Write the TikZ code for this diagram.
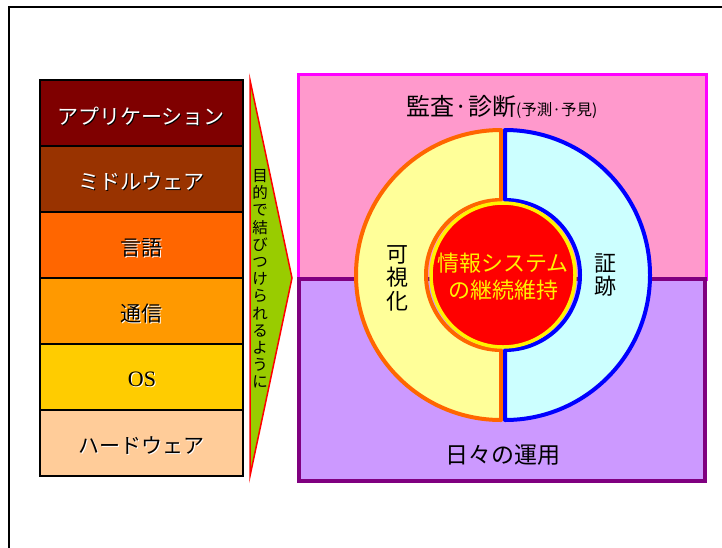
\documentclass[tikz,border=0pt]{standalone}
\usepackage{fontspec}
\setmainfont{Noto Sans CJK JP}
\newfontfamily\osfont{Liberation Serif}
\definecolor{cApp}{HTML}{7F0000}
\definecolor{cMid}{HTML}{993300}
\definecolor{cLang}{HTML}{FF6600}
\definecolor{cCom}{HTML}{FF9900}
\definecolor{cOS}{HTML}{FFCC00}
\definecolor{cHW}{HTML}{FFCC99}
\definecolor{cArrow}{HTML}{99CC00}
\definecolor{cPink}{HTML}{FF99CC}
\definecolor{cMag}{HTML}{FF00FF}
\definecolor{cPurp}{HTML}{CC99FF}
\definecolor{cPurpLine}{HTML}{800080}
\definecolor{cYel}{HTML}{FFFF99}
\definecolor{cCyan}{HTML}{CCFFFF}
\definecolor{cOrange}{HTML}{FF6600}
\begin{document}
\begin{tikzpicture}[x=1pt,y=-1pt,
  band/.style={draw=black,line width=2pt},
  bandtext/.style={inner sep=0pt,font=\fontsize{21}{24}\selectfont},
  bigtext/.style={inner sep=0pt,align=center,font=\fontsize{22}{24}\selectfont},
  vtext/.style={inner sep=0pt,align=center,font=\fontsize{15.5}{17.2}\selectfont},
  halfring/.style={line width=4pt,line join=round}]
\useasboundingbox (0,0) rectangle (722,547);
\fill[white] (0,0) rectangle (722,547);
\clip (0,0) rectangle (722,547);
% outer frame
\draw[line width=2.5pt] (9,600) -- (9,7) -- (760,7);
% layer stack
\draw[band,fill=cApp]  (40,80)  rectangle (243,146);
\draw[band,fill=cMid]  (40,146) rectangle (243,212);
\draw[band,fill=cLang] (40,212) rectangle (243,278);
\draw[band,fill=cCom]  (40,278) rectangle (243,344);
\draw[band,fill=cOS]   (40,344) rectangle (243,410);
\draw[band,fill=cHW]   (40,410) rectangle (243,476);
\node[bandtext,text=black] (appS) at (142,117) {アプリケーション};
\node[bandtext,text=white] (app)  at (141,116) {アプリケーション};
\node[bandtext,text=black] (midS) at (142,183) {ミドルウェア};
\node[bandtext,text=white] (mid)  at (141,182) {ミドルウェア};
\node[bandtext,text=white] (langS) at (142,249) {言語};
\node[bandtext,text=black] (lang)  at (141,248) {言語};
\node[bandtext,text=white] (comS) at (142,315) {通信};
\node[bandtext,text=black] (com)  at (141,314) {通信};
\node[bandtext,text=white,font=\osfont\fontsize{22}{24}\selectfont] (osS) at (143,380) {OS};
\node[bandtext,text=black,font=\osfont\fontsize{22}{24}\selectfont] (os)  at (142,379) {OS};
\node[bandtext,text=white] (hwS) at (142,447) {ハードウェア};
\node[bandtext,text=black] (hw)  at (141,446) {ハードウェア};
% arrow
\draw[red,fill=cArrow,line width=1.5pt,line join=miter] (250,80) -- (292,278) -- (250,476) -- cycle;
\node[vtext] (purpose) at (260,279) {目\\的\\で\\結\\び\\つ\\け\\ら\\れ\\る\\よ\\う\\に};
% right boxes
\draw[draw=cMag,fill=cPink,line width=3pt] (298,74) rectangle (706,279);
\draw[draw=cPurpLine,fill=cPurp,line width=3.5pt] (299,279) rectangle (705,481);
\node[inner sep=0pt,anchor=base] (audit) at (502,115)
  {\fontsize{24}{26}\selectfont 監査·診断\fontsize{15.5}{17}\selectfont(予測·予見)};
\node[bigtext,font=\fontsize{23}{25}\selectfont] (ops) at (503,455) {日々の運用};
% half rings
\draw[halfring,draw=cOrange,fill=cYel]
  (501,130) arc[start angle=270,end angle=90,radius=145]
  -- (501,350) arc[start angle=90,end angle=270,radius=75] -- cycle;
\draw[halfring,draw=blue,fill=cCyan]
  (505,130) arc[start angle=-90,end angle=90,radius=145]
  -- (505,350) arc[start angle=90,end angle=-90,radius=75] -- cycle;
% core
\node[circle,draw=yellow,fill=red,line width=3.5pt,minimum size=144pt,inner sep=0pt] (core) at (503,275) {};
\node[bigtext,text=yellow,font=\fontsize{22}{27}\selectfont] (coretext) at (503,277) {情報システム\\の継続維持};
\node[bigtext,font=\fontsize{22}{23.5}\selectfont] (visual) at (397,278) {可\\視\\化};
\node[bigtext,font=\fontsize{22}{23.5}\selectfont] (trace) at (605,275) {証\\跡};
\end{tikzpicture}
\end{document}
